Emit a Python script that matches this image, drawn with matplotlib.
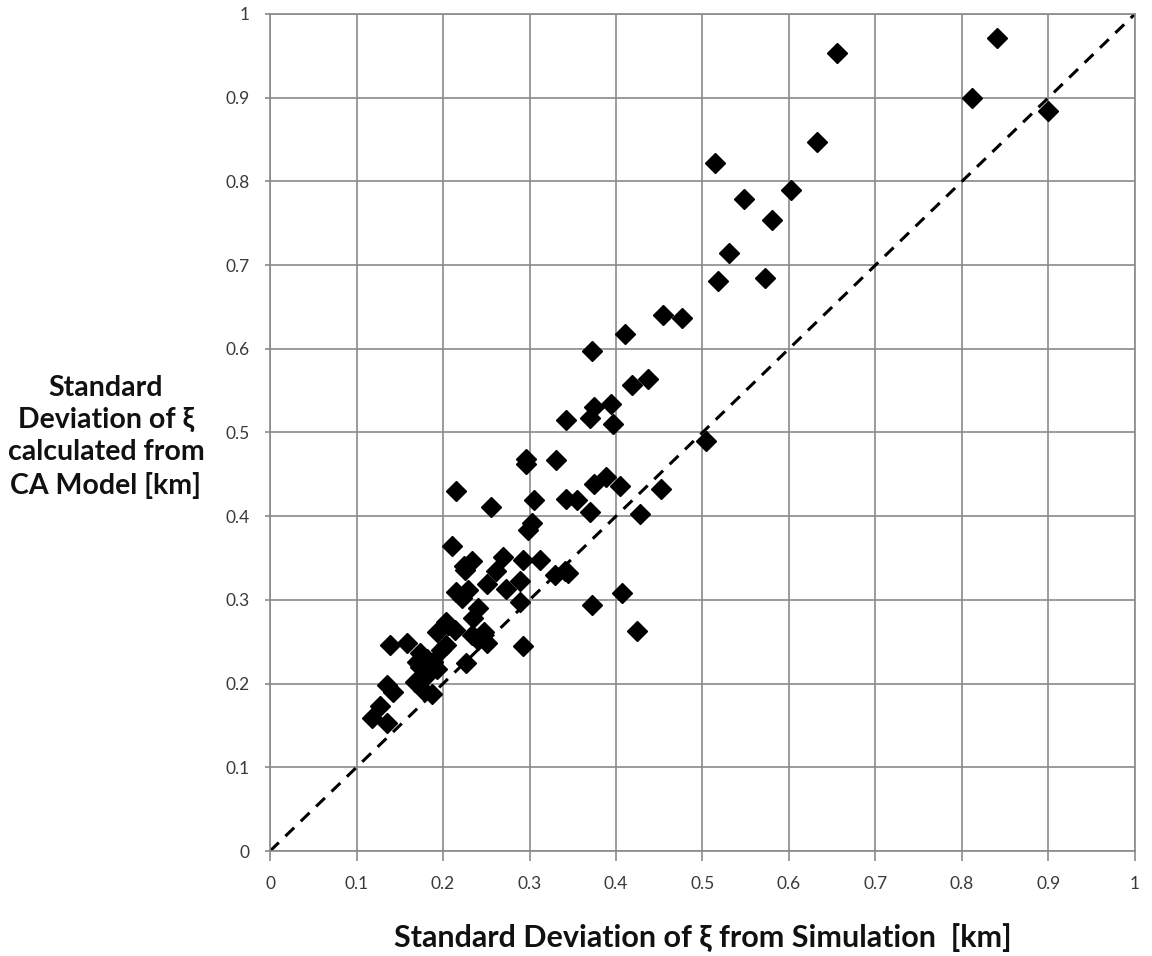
import numpy as np
import matplotlib
matplotlib.use('Agg')
from matplotlib import pyplot as plt

# std dev of xi: simulation (x) vs CA model (y)
sim_std = [0.840, 0.655, 0.812, 0.899, 0.632, 0.514, 0.602, 0.548, 0.580, 0.531,
           0.518, 0.572, 0.476, 0.454, 0.410, 0.372, 0.418, 0.437, 0.394, 0.374,
           0.370, 0.342, 0.396, 0.504, 0.331, 0.388, 0.374, 0.405, 0.452, 0.342,
           0.355, 0.370, 0.428, 0.345, 0.407, 0.372, 0.424, 0.296, 0.296, 0.215,
           0.255, 0.305, 0.303, 0.298, 0.210, 0.225, 0.234, 0.224, 0.269, 0.293,
           0.312, 0.261, 0.341, 0.251, 0.273, 0.289, 0.215, 0.229, 0.222, 0.289,
           0.241, 0.235, 0.204, 0.193, 0.206, 0.214, 0.158, 0.139, 0.204, 0.198,
           0.233, 0.247, 0.241, 0.251, 0.293, 0.227, 0.173, 0.181, 0.189, 0.173,
           0.185, 0.193, 0.179, 0.170, 0.168, 0.177, 0.187, 0.135, 0.142, 0.127,
           0.118, 0.135, 0.330]
ca_std = [0.971, 0.953, 0.900, 0.884, 0.847, 0.822, 0.790, 0.779, 0.754, 0.714,
          0.681, 0.685, 0.637, 0.640, 0.618, 0.597, 0.557, 0.564, 0.534, 0.530,
          0.517, 0.515, 0.510, 0.490, 0.467, 0.447, 0.438, 0.436, 0.432, 0.420,
          0.419, 0.405, 0.403, 0.332, 0.308, 0.294, 0.263, 0.468, 0.462, 0.430,
          0.411, 0.419, 0.392, 0.384, 0.364, 0.336, 0.347, 0.340, 0.351, 0.348,
          0.348, 0.335, 0.334, 0.319, 0.313, 0.322, 0.310, 0.312, 0.302, 0.298,
          0.290, 0.278, 0.274, 0.262, 0.270, 0.264, 0.249, 0.246, 0.246, 0.240,
          0.258, 0.262, 0.252, 0.248, 0.245, 0.225, 0.236, 0.230, 0.226, 0.220,
          0.216, 0.218, 0.208, 0.226, 0.202, 0.192, 0.188, 0.198, 0.190, 0.173,
          0.159, 0.153, 0.330]

ticks = [0, 0.1, 0.2, 0.3, 0.4, 0.5, 0.6, 0.7, 0.8, 0.9, 1]
tick_labels = ['0', '0.1', '0.2', '0.3', '0.4', '0.5', '0.6', '0.7', '0.8', '0.9', '1']

fam = ['Lato', 'DejaVu Sans']
plt.rcParams['font.family'] = fam

fig = plt.figure(figsize=(11.52, 9.56), dpi=100)
ax = fig.add_axes([0.2344, 0.1098, 0.7508, 0.8756])

ax.plot([0, 1], [0, 1], color='black', linestyle=(0, (4, 3)), linewidth=2.2, zorder=2)
ax.plot(sim_std, ca_std, linestyle='none', marker='D', markersize=10.5,
        color='black', zorder=3)

ax.set_xlim(0, 1)
ax.set_ylim(0, 1)
ax.set_xticks(ticks)
ax.set_yticks(ticks)
ax.set_xticklabels(tick_labels)
ax.set_yticklabels(tick_labels)
ax.grid(True, color='#8a8a8a', linewidth=1.2)
ax.set_axisbelow(True)
for s in ax.spines.values():
    s.set_color('#8a8a8a')
    s.set_linewidth(1.2)
ax.tick_params(axis='both', colors='#8a8a8a', width=1.2,
               labelcolor='#3a3a3a', labelsize=12.5)
ax.tick_params(axis='x', length=7, pad=11)
ax.tick_params(axis='y', length=3.6, pad=11)

ax.set_xlabel('Standard Deviation of ξ from Simulation  [km]', fontsize=22,
              fontweight='bold', labelpad=22, color='#111111')
fig.text(0.092, 0.543, 'Standard\nDeviation of ξ\ncalculated from\nCA Model [km]',
         ha='center', va='center', fontsize=20.5, fontweight='bold',
         linespacing=1.3, color='#111111')

fig.savefig('out.png', dpi=100)
